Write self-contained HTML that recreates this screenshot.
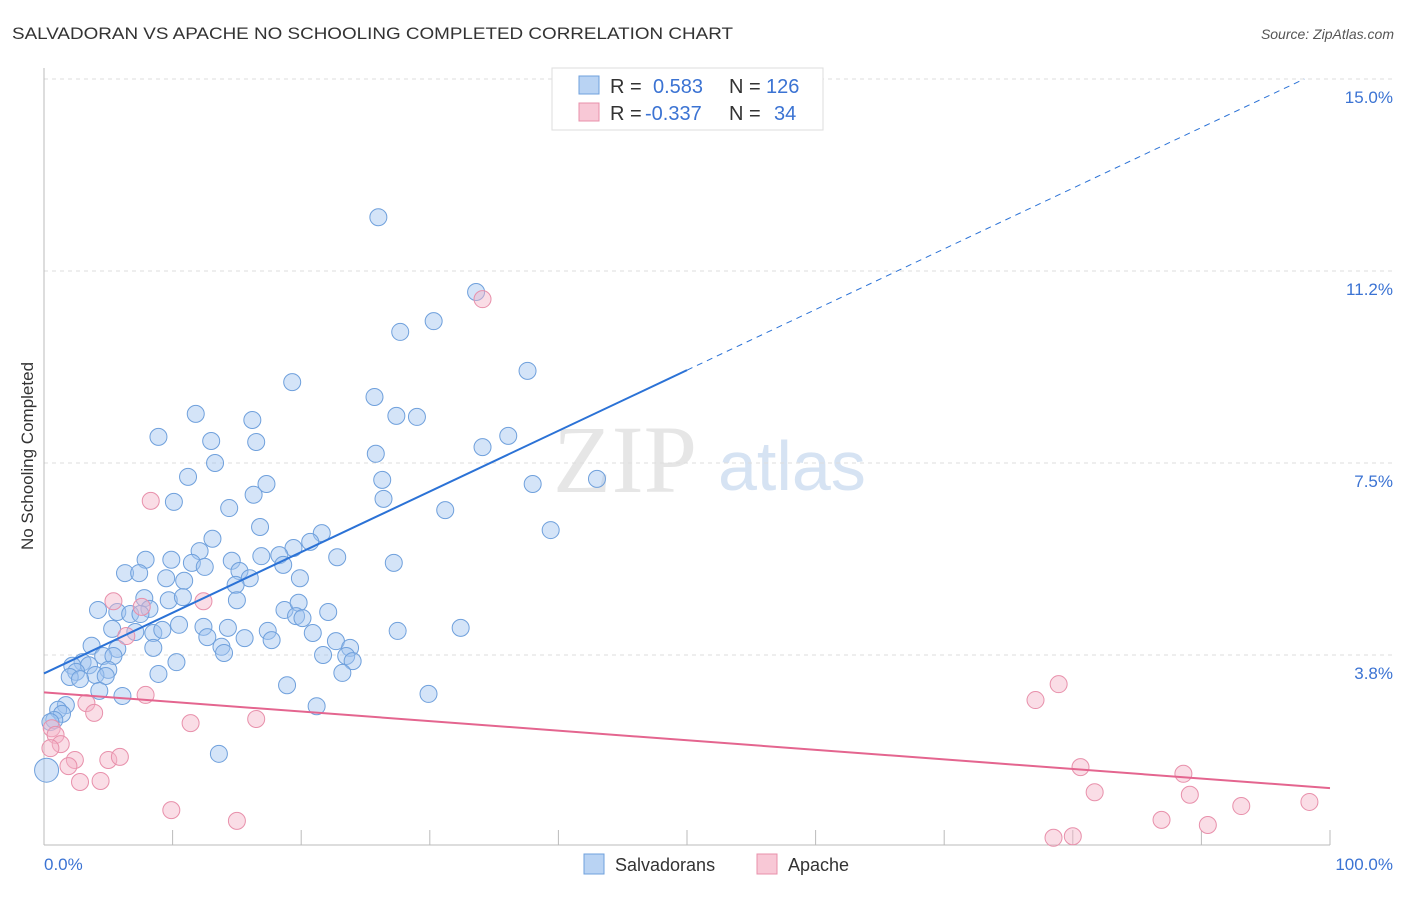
<!DOCTYPE html>
<html><head><meta charset="utf-8"><style>
body{margin:0;background:#fff;font-family:"Liberation Sans",sans-serif;}
</style></head><body>
<svg id="c" width="1406" height="892" xmlns="http://www.w3.org/2000/svg">
<text x="12" y="39" font-size="17" fill="#333" textLength="721" lengthAdjust="spacingAndGlyphs">SALVADORAN VS APACHE NO SCHOOLING COMPLETED CORRELATION CHART</text>
<text x="1394" y="39" font-size="14" fill="#555" text-anchor="end" font-style="italic">Source: ZipAtlas.com</text>
<text x="553" y="492" font-size="96" fill="#e6e6e6" font-family="Liberation Serif,serif">ZIP</text>
<text x="718" y="490" font-size="70" fill="#d6e3f3">atlas</text>
<g id="grid"></g><g id="pts"></g><g id="lines"></g>
<text x="33" y="456" font-size="17" fill="#333" transform="rotate(-90 33 456)" text-anchor="middle">No Schooling Completed</text>
<text x="44" y="870" font-size="17" fill="#3b73d3">0.0%</text>
<text x="1393" y="870" font-size="17" fill="#3b73d3" text-anchor="end">100.0%</text>
<g>
<rect x="552" y="68" width="271" height="62" fill="#fff" stroke="#ddd"/>
<rect x="579" y="76" width="20" height="18" fill="#b9d3f3" stroke="#6fa0dc"/>
<rect x="579" y="103" width="20" height="18" fill="#f8c8d6" stroke="#e890ab"/>
<text x="610" y="93" font-size="20" fill="#333">R = <tspan fill="#3b73d3" x="653">0.583</tspan><tspan x="729" fill="#333">N = </tspan><tspan fill="#3b73d3" x="766">126</tspan></text>
<text x="610" y="120" font-size="20" fill="#333">R = <tspan fill="#3b73d3" x="645">-0.337</tspan><tspan x="729" fill="#333">N = </tspan><tspan fill="#3b73d3" x="774">34</tspan></text>
</g>
<g>
<rect x="584" y="854" width="20" height="20" fill="#b9d3f3" stroke="#6fa0dc"/>
<text x="615" y="871" font-size="18" fill="#333">Salvadorans</text>
<rect x="757" y="854" width="20" height="20" fill="#f8c8d6" stroke="#e890ab"/>
<text x="788" y="871" font-size="18" fill="#333">Apache</text>
</g>
</svg>
<script>
const yTicks=[3.75,7.5,11.25,15];
const yTickLabels=["3.8%","7.5%","11.2%","15.0%"];
const blueX=[26.0,33.6,30.3,27.7,19.3,37.6,25.7,11.8,16.2,27.4,29.0,8.9,13.0,16.5,36.1,34.1,25.8,13.3,11.2,26.3,38.0,43.0,17.3,16.3,10.1,26.4,14.4,31.2,39.4,16.8,21.6,13.1,20.7,19.4,12.1,7.9,9.9,14.6,16.9,18.3,22.8,27.2,11.5,12.5,18.6,6.3,7.4,15.2,9.5,10.9,16.0,19.9,14.9,7.8,9.7,10.8,15.0,4.2,5.7,8.2,6.7,7.5,18.7,19.8,22.1,19.6,20.1,5.3,7.1,8.5,9.2,10.5,12.4,14.3,17.4,20.9,27.5,32.4,12.7,15.6,17.7,22.7,3.7,5.7,8.5,13.8,14.0,23.8,21.7,23.5,24.0,4.6,5.4,3.0,3.5,2.2,10.3,5.0,2.5,4.0,4.8,2.0,2.8,8.9,23.2,18.9,4.3,6.1,29.9,21.2,1.7,1.1,1.4,0.8,0.5,13.6,0.2];
const blueY=[12.3,10.84,10.27,10.06,9.08,9.30,8.79,8.46,8.34,8.42,8.40,8.01,7.93,7.91,8.03,7.81,7.68,7.50,7.23,7.17,7.09,7.19,7.09,6.88,6.74,6.80,6.62,6.58,6.19,6.25,6.13,6.02,5.96,5.84,5.78,5.61,5.61,5.59,5.68,5.70,5.66,5.55,5.55,5.47,5.51,5.35,5.35,5.39,5.25,5.20,5.25,5.25,5.12,4.86,4.82,4.88,4.82,4.63,4.59,4.65,4.55,4.55,4.63,4.77,4.59,4.51,4.47,4.26,4.20,4.18,4.24,4.34,4.30,4.28,4.22,4.18,4.22,4.28,4.10,4.08,4.04,4.02,3.93,3.87,3.89,3.91,3.79,3.89,3.75,3.73,3.63,3.73,3.73,3.61,3.55,3.54,3.61,3.46,3.42,3.36,3.34,3.32,3.28,3.38,3.40,3.16,3.05,2.95,2.99,2.75,2.77,2.68,2.60,2.48,2.44,1.82,1.50];
const pinkX=[34.1,8.3,12.4,5.4,7.6,6.4,7.9,3.3,3.9,11.4,16.5,0.6,0.9,1.3,0.5,2.4,5.0,5.9,1.9,2.8,4.4,9.9,15.0,78.9,77.1,80.6,81.7,88.6,89.1,86.9,90.5,93.1,98.4,78.5,80.0];
const pinkY=[10.70,6.76,4.80,4.80,4.69,4.12,2.97,2.81,2.62,2.42,2.50,2.32,2.19,2.01,1.93,1.70,1.70,1.76,1.58,1.27,1.29,0.72,0.51,3.18,2.87,1.56,1.07,1.43,1.02,0.53,0.43,0.80,0.88,0.18,0.21];
const blueFit=[3.39,15.0];
const pinkFit=[3.02,1.15];
const NS="http://www.w3.org/2000/svg";
const X=v=>44+v*12.86, Y=v=>847-v*51.2;
function mk(t,a,p){const e=document.createElementNS(NS,t);for(const k in a)e.setAttribute(k,a[k]);p.appendChild(e);return e;}
const grid=document.getElementById('grid');
yTicks.forEach((t,i)=>{
 const l=mk('line',{x1:44,x2:1394,y1:Y(t),y2:Y(t),stroke:'#ddd','stroke-dasharray':'4 4'},grid);
 
 
 const tx=mk('text',{x:1393,y:Y(t)+24,'font-size':17,fill:'#3b73d3','text-anchor':'end'},grid);
 tx.textContent=yTickLabels[i];
 
 
});
mk('line',{x1:44,x2:44,y1:68,y2:845,stroke:'#bbb'},grid);
mk('line',{x1:44,x2:1330,y1:845,y2:845,stroke:'#bbb'},grid);
for(let i=0;i<=10;i++){const t=mk('line',{x1:X(i*10),x2:X(i*10),y1:830,y2:845,stroke:'#bbb'},grid);
 
 }
const pts=document.getElementById('pts');
blueX.forEach((x,i)=>{const c=mk('circle',{cx:X(x),cy:Y(blueY[i]),r:(x<0.5?12:8.5),fill:'rgba(160,196,240,0.45)',stroke:'#6fa0dc','stroke-width':1},pts);
 
 });
pinkX.forEach((x,i)=>{const c=mk('circle',{cx:X(x),cy:Y(pinkY[i]),r:8.5,fill:'rgba(245,180,200,0.45)',stroke:'#e890ab','stroke-width':1},pts);
 
 });
const lines=document.getElementById('lines');
const slope=(blueFit[1]-blueFit[0])/98;
const b1=mk('line',{x1:X(0),y1:Y(blueFit[0]),x2:X(50),y2:Y(blueFit[0]+slope*50),stroke:'#2b72d6','stroke-width':2},lines);


const b2=mk('line',{x1:X(50),y1:Y(blueFit[0]+slope*50),x2:X(98),y2:Y(blueFit[1]),stroke:'#2b72d6','stroke-width':1,'stroke-dasharray':'6 5'},lines);


const p1=mk('line',{x1:X(0),y1:Y(pinkFit[0]),x2:X(100),y2:Y(pinkFit[1]),stroke:'#e4658f','stroke-width':2},lines);


</script>
</body></html>
